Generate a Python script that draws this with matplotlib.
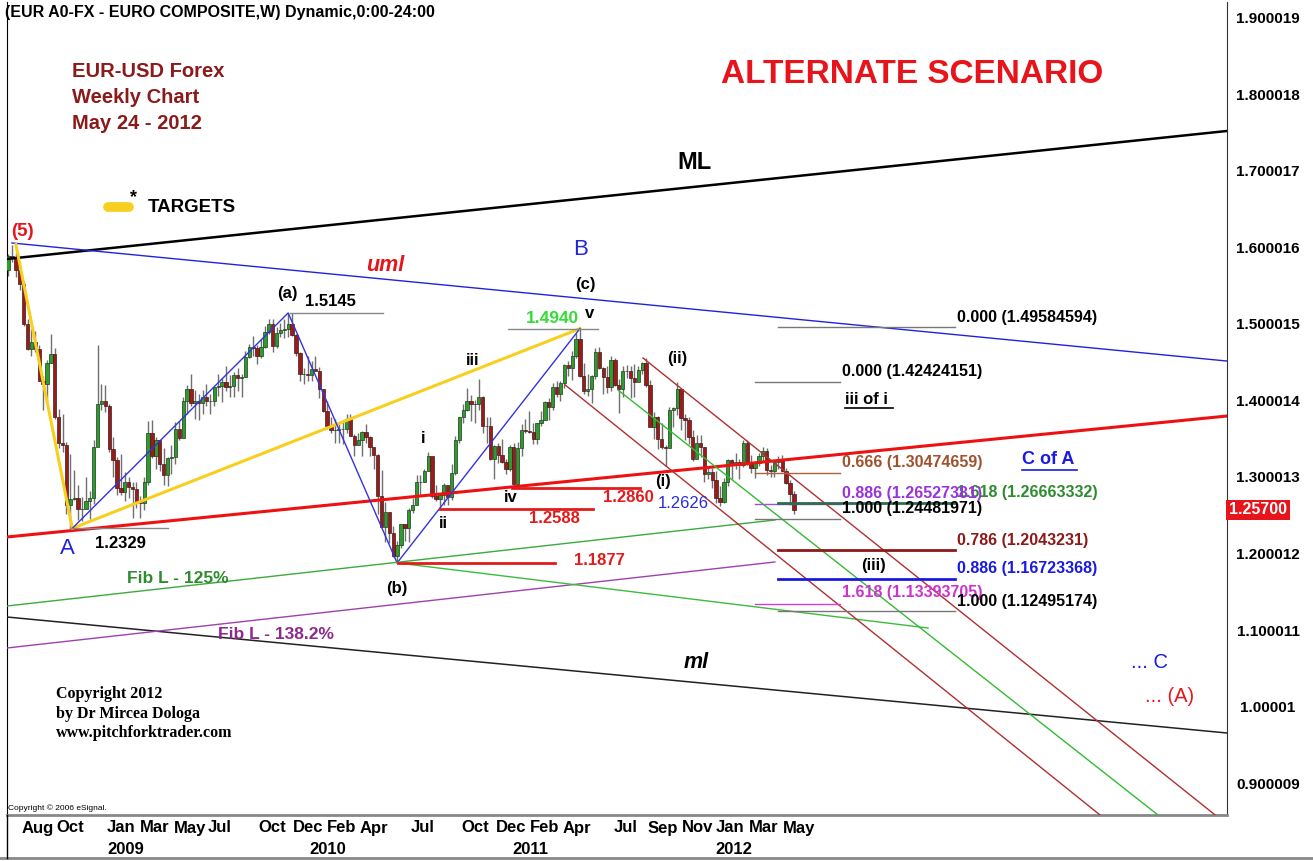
import pandas as pd
import numpy as np
import matplotlib
matplotlib.use('Agg')
import matplotlib.pyplot as plt
import matplotlib.transforms as mtransforms
from matplotlib.lines import Line2D

plt.rcParams['font.family'] = ['Liberation Sans', 'DejaVu Sans']

# ---- weekly EUR/USD candles, first week starts 2008-07-07 ----
start_week = '2008-07-07'
first_open = 1.5700

high_2008 = [1.5915, 1.6038, 1.5930, 1.5690, 1.5560, 1.5070, 1.4930, 1.4910, 1.4720, 1.4320,
             1.4530, 1.4870, 1.4680, 1.3890, 1.3820, 1.3460, 1.3300, 1.3090, 1.2890, 1.2740,
             1.3000, 1.2820, 1.3480, 1.4720, 1.4220, 1.4200]
low_2008 = [1.5630, 1.5810, 1.5620, 1.5440, 1.4970, 1.4660, 1.4580, 1.4640, 1.4250, 1.3880,
            1.4000, 1.4490, 1.3760, 1.3380, 1.3330, 1.2520, 1.2329, 1.2700, 1.2440, 1.2420,
            1.2640, 1.2450, 1.2650, 1.3400, 1.3880, 1.3850]
close_2008 = [1.5890, 1.5860, 1.5700, 1.5520, 1.5005, 1.4670, 1.4760, 1.4670, 1.4260, 1.4220,
              1.4490, 1.4610, 1.3790, 1.3440, 1.3420, 1.2640, 1.2710, 1.2730, 1.2580, 1.2580,
              1.2680, 1.2730, 1.3390, 1.3960, 1.4000, 1.3930]

high_2009 = [1.3950, 1.3520, 1.3260, 1.3300, 1.3060, 1.3000, 1.2930, 1.2930, 1.2750, 1.3000,
             1.3730, 1.3740, 1.3520, 1.3450, 1.3380, 1.3260, 1.3420, 1.3720, 1.3730, 1.4050,
             1.4200, 1.4340, 1.4140, 1.4090, 1.4140, 1.4210, 1.4080, 1.4170, 1.4340, 1.4300,
             1.4450, 1.4330, 1.4370, 1.4420, 1.4340, 1.4650, 1.4740, 1.4840, 1.4720, 1.4800,
             1.4980, 1.5060, 1.5060, 1.4960, 1.5010, 1.5060, 1.5145, 1.5140, 1.4870, 1.4630,
             1.4420, 1.4580]
low_2009 = [1.3330, 1.3000, 1.2770, 1.2770, 1.2680, 1.2720, 1.2460, 1.2590, 1.2460, 1.2570,
            1.2900, 1.3250, 1.3110, 1.3080, 1.2890, 1.2880, 1.3040, 1.3170, 1.3480, 1.3510,
            1.3830, 1.3930, 1.3760, 1.3750, 1.3830, 1.3930, 1.3820, 1.3930, 1.4060, 1.3980,
            1.4130, 1.4050, 1.4050, 1.4130, 1.4050, 1.4310, 1.4550, 1.4580, 1.4480, 1.4550,
            1.4690, 1.4870, 1.4630, 1.4690, 1.4830, 1.4820, 1.4830, 1.4840, 1.4580, 1.4260,
            1.4220, 1.4260]
close_2009 = [1.3370, 1.3220, 1.2850, 1.2800, 1.2940, 1.2870, 1.2840, 1.2670, 1.2660, 1.2930,
              1.3580, 1.3280, 1.3480, 1.3170, 1.3030, 1.3250, 1.3260, 1.3630, 1.3510, 1.3990,
              1.4150, 1.3970, 1.4000, 1.3970, 1.4040, 1.3990, 1.3990, 1.4170, 1.4190, 1.4240,
              1.4180, 1.4190, 1.4330, 1.4290, 1.4310, 1.4570, 1.4700, 1.4680, 1.4580, 1.4700,
              1.4900, 1.5000, 1.4710, 1.4880, 1.4920, 1.4930, 1.5000, 1.4850, 1.4620, 1.4340,
              1.4350, 1.4330]

high_2010 = [1.4520, 1.4580, 1.4440, 1.4150, 1.4000, 1.3790, 1.3760, 1.3690, 1.3750, 1.3820,
             1.3830, 1.3560, 1.3580, 1.3600, 1.3690, 1.3540, 1.3380, 1.3300, 1.3090, 1.2670,
             1.2540, 1.2360, 1.2160, 1.2390, 1.2390, 1.2590, 1.2720, 1.3030, 1.3030, 1.3110,
             1.3333, 1.3260, 1.2890, 1.2780, 1.2920, 1.2900, 1.3170, 1.3530, 1.3790, 1.3950,
             1.4160, 1.4070, 1.4010, 1.4280, 1.4060, 1.3780, 1.3780, 1.3420, 1.3450, 1.3500,
             1.3230, 1.3420]
low_2010 = [1.4260, 1.4380, 1.4030, 1.3850, 1.3630, 1.3580, 1.3440, 1.3450, 1.3430, 1.3580,
            1.3530, 1.3270, 1.3420, 1.3270, 1.3450, 1.3280, 1.3110, 1.2520, 1.2350, 1.2150,
            1.2140, 1.1960, 1.1877, 1.2070, 1.2160, 1.2150, 1.2530, 1.2640, 1.2760, 1.2940,
            1.3080, 1.2730, 1.2680, 1.2588, 1.2640, 1.2640, 1.2700, 1.3020, 1.3440, 1.3700,
            1.3860, 1.3730, 1.3700, 1.3870, 1.3580, 1.3450, 1.3220, 1.2970, 1.3180, 1.3180,
            1.3040, 1.3080]
close_2010 = [1.4410, 1.4380, 1.4150, 1.3860, 1.3670, 1.3610, 1.3610, 1.3630, 1.3630, 1.3760,
              1.3530, 1.3420, 1.3490, 1.3590, 1.3520, 1.3390, 1.3290, 1.2750, 1.2350, 1.2540,
              1.2270, 1.1970, 1.2110, 1.2380, 1.2330, 1.2570, 1.2640, 1.2940, 1.2940, 1.3080,
              1.3280, 1.2750, 1.2710, 1.2760, 1.2900, 1.2740, 1.3050, 1.3490, 1.3780, 1.3870,
              1.4000, 1.3960, 1.3950, 1.4040, 1.3670, 1.3670, 1.3240, 1.3410, 1.3290, 1.3190,
              1.3100, 1.3390]

high_2011 = [1.3440, 1.3460, 1.3690, 1.3760, 1.3860, 1.3700, 1.3710, 1.3860, 1.4000, 1.4030,
             1.4230, 1.4250, 1.4250, 1.4480, 1.4520, 1.4650, 1.4880, 1.4940, 1.4490, 1.4350,
             1.4330, 1.4680, 1.4700, 1.4440, 1.4450, 1.4580, 1.4560, 1.4280, 1.4450, 1.4460,
             1.4450, 1.4480, 1.4450, 1.4500, 1.4550, 1.4270, 1.3850, 1.3800, 1.3700, 1.3420,
             1.3910, 1.3910, 1.4247, 1.4150, 1.3820, 1.3790, 1.3620, 1.3550, 1.3550, 1.3390,
             1.3120, 1.3120]
low_2011 = [1.2900, 1.2860, 1.3270, 1.3580, 1.3580, 1.3430, 1.3430, 1.3670, 1.3750, 1.3750,
            1.3870, 1.4040, 1.4000, 1.4160, 1.4320, 1.4270, 1.4560, 1.4310, 1.4090, 1.4060,
            1.3970, 1.4280, 1.4410, 1.4080, 1.4100, 1.4130, 1.4190, 1.3840, 1.4050, 1.4300,
            1.4030, 1.4050, 1.4280, 1.4340, 1.4180, 1.3650, 1.3500, 1.3370, 1.3360, 1.3146,
            1.3440, 1.3650, 1.3810, 1.3610, 1.3480, 1.3430, 1.3210, 1.3260, 1.3260, 1.2940,
            1.2980, 1.2860]
close_2011 = [1.2910, 1.3380, 1.3620, 1.3600, 1.3590, 1.3500, 1.3700, 1.3740, 1.3980, 1.3920,
              1.4180, 1.4090, 1.4230, 1.4470, 1.4430, 1.4580, 1.4810, 1.4320, 1.4130, 1.4150,
              1.4320, 1.4640, 1.4420, 1.4310, 1.4180, 1.4530, 1.4200, 1.4150, 1.4380, 1.4390,
              1.4290, 1.4240, 1.4400, 1.4490, 1.4200, 1.3650, 1.3790, 1.3500, 1.3390, 1.3380,
              1.3880, 1.3900, 1.4150, 1.3770, 1.3750, 1.3520, 1.3240, 1.3440, 1.3390, 1.3040,
              1.3060, 1.2960]

high_2012 = [1.3080, 1.2880, 1.2990, 1.3230, 1.3240, 1.3320, 1.3240, 1.3490, 1.3490, 1.3290,
             1.3210, 1.3320, 1.3390, 1.3380, 1.3160, 1.3210, 1.3270, 1.3290, 1.3120, 1.2960,
             1.2820]
low_2012 = [1.2660, 1.2624, 1.2660, 1.2880, 1.2980, 1.3100, 1.2970, 1.3130, 1.3160, 1.3050,
            1.2990, 1.3140, 1.3210, 1.3030, 1.3000, 1.3000, 1.3110, 1.3070, 1.2910, 1.2640,
            1.2510]
close_2012 = [1.2720, 1.2670, 1.2940, 1.3220, 1.3160, 1.3200, 1.3160, 1.3450, 1.3190, 1.3120,
              1.3180, 1.3270, 1.3340, 1.3090, 1.3080, 1.3200, 1.3240, 1.3080, 1.2920, 1.2780,
              1.2570]

highs = high_2008 + high_2009 + high_2010 + high_2011 + high_2012
lows = low_2008 + low_2009 + low_2010 + low_2011 + low_2012
closes = close_2008 + close_2009 + close_2010 + close_2011 + close_2012
opens = [first_open] + closes[:-1]   # forex weekly open = previous close

last_price = 1.25700

# ---- drawn analysis lines: (week numbers from 2008-07-14, prices) ----
ML_line = ([-1.29, 312.3], [1.5850, 1.7523])
uml_line = ([0.0, 312.3], [1.6059, 1.4516])
red_median = ([-1.29, 312.3], [1.2216, 1.3797])
ml_line = ([-1.29, 312.3], [1.1170, 0.9654])
yellow_leg = ([1.0, 15.5, 146.0], [1.6038, 1.2329, 1.4940])
blue_zigzag = ([15.5, 71.0, 99.0, 146.0], [1.2329, 1.5145, 1.1877, 1.4940])
fib_125 = ([-1.29, 196.1], [1.1314, 1.2438])
fib_138 = ([-1.29, 196.1], [1.0765, 1.1889])
green_from_b = ([99.0, 235.5], [1.1877, 1.1026])
channel_low = ([142.2, 279.7], [1.4203, 0.8582])
channel_mid = ([155.8, 294.6], [1.4137, 0.8582])
channel_up = ([162.2, 309.3], [1.4556, 0.8582])

# short horizontal price marks
gray_marks = [(71.5, 95.4, 1.5145), (14.9, 40.1, 1.2329), (127.5, 150.6, 1.4940)]
red_marks = [(128.5, 161.4, 1.2860), (110.0, 149.4, 1.2588), (99.2, 139.6, 1.1877)]
fib_left = [(1.42424151, '#777777', 1.0), (1.30474659, '#B0603A', 1.0), (1.26527381, '#A050D0', 1.0),
            (1.24481971, '#777777', 1.0), (1.13393705, '#D040D0', 1.0)]
fib_right = [(1.49584594, '#777777', 1.0), (1.26663332, '#2F6B50', 2.0), (1.20432310, '#8B1A1A', 2.0),
             (1.16723368, '#1A1AE0', 2.0), (1.12495174, '#777777', 1.0)]
fib_left_span = (191.0, 212.9)
fib_right_span = (196.9, 242.4)

ytick_vals = [1.900019, 1.800018, 1.700017, 1.600016, 1.500015, 1.400014,
              1.300013, 1.200012, 1.100011, 1.00001, 0.900009]
ytick_text = ['1.900019', '1.800018', '1.700017', '1.600016', '1.500015', '1.400014',
              '1.300013', '1.200012', '1.100011', '1.00001', '0.900009']

month_dates = ['2008-08-01', '2008-10-01', '2009-01-01', '2009-03-01', '2009-05-01', '2009-07-01',
               '2009-10-01', '2009-12-01', '2010-02-01', '2010-04-01', '2010-07-01', '2010-10-01',
               '2010-12-01', '2011-02-01', '2011-04-01', '2011-07-01', '2011-09-01', '2011-11-01',
               '2012-01-01', '2012-03-01', '2012-05-01']
month_names = ['Aug', 'Oct', 'Jan', 'Mar', 'May', 'Jul', 'Oct', 'Dec', 'Feb', 'Apr', 'Jul', 'Oct',
               'Dec', 'Feb', 'Apr', 'Jul', 'Sep', 'Nov', 'Jan', 'Mar', 'May']
year_names = ['2009', '2010', '2011', '2012']

# ---------------------------------------------------------------
base = pd.Timestamp('2008-07-14')
dates = pd.date_range(start_week, periods=len(closes), freq='W-MON')
wk = np.asarray((dates - base).days) / 7.0

W, H = 1313, 861
fig = plt.figure(figsize=(W / 100, H / 100), dpi=100)
ax = fig.add_axes([7 / W, (H - 815) / H, 1220 / W, 813 / H])
ax.set_xlim(-1.285, 312.34)
ax.set_ylim(0.8582, 1.9209)


def px(x, y):
    # picture position -> data position, used for annotation text
    return (x - 12) / 3.89, 1.9 - (y - 18) / 765.0


# candles
o = np.array(opens); c = np.array(closes)
up = c >= o
ax.vlines(wk, lows, highs, color='#707070', lw=1, zorder=2)
ax.bar(wk[up], (c - o)[up], bottom=o[up], width=0.85, color='#2E9B2E',
       edgecolor='#1d3d1d', lw=0.5, zorder=3)
ax.bar(wk[~up], (o - c)[~up], bottom=c[~up], width=0.85, color='#9B1B1B',
       edgecolor='#3d1d1d', lw=0.5, zorder=3)

# trend / pitchfork lines
ax.plot(*ML_line, color='black', lw=1.8, zorder=4)
ax.plot(*uml_line, color='#2222DD', lw=1, zorder=4)
ax.plot(*red_median, color='#EE1111', lw=2.2, zorder=4)
ax.plot(*ml_line, color='#222222', lw=1.1, zorder=4)
ax.plot(*yellow_leg, color='#F7CF1E', lw=2.2, zorder=4)
ax.plot(*blue_zigzag, color='#3333DD', lw=1, zorder=4)
ax.plot(*fib_125, color='#3DAA3D', lw=1, zorder=4)
ax.plot(*fib_138, color='#A040B0', lw=1, zorder=4)
ax.plot(*green_from_b, color='#3DBB3D', lw=1, zorder=4)
ax.plot(*channel_low, color='#B03030', lw=1, zorder=4)
ax.plot(*channel_mid, color='#33BB33', lw=1, zorder=4)
ax.plot(*channel_up, color='#B03030', lw=1, zorder=4)

for x0, x1, p in gray_marks:
    ax.plot([x0, x1], [p, p], color='#888888', lw=1, zorder=4)
for x0, x1, p in red_marks:
    ax.plot([x0, x1], [p, p], color='#E21B1B', lw=2, zorder=4)
for p, col, lw in fib_left:
    ax.plot(fib_left_span, [p, p], color=col, lw=lw, zorder=4)
for p, col, lw in fib_right:
    ax.plot(fib_right_span, [p, p], color=col, lw=lw, zorder=4)

# texts
def t(x, y, s, color='black', size=12, weight='bold', ha='center', style='normal', **kw):
    ax.text(*px(x, y), s, color=color, fontsize=size, fontweight=weight, ha=ha,
            va='center', fontstyle=style, zorder=6, **kw)


for i, s in enumerate(['EUR-USD Forex', 'Weekly Chart', 'May 24 - 2012']):
    t(72, 72 + 26 * i, s, color='#8B1A1A', size=14.5, ha='left')
t(912, 75, 'ALTERNATE SCENARIO', color='#E8141B', size=24)
t(695, 163, 'ML', size=17)
ax.plot(*zip(px(108, 207), px(129, 207)), color='#F7CF1E', lw=7, solid_capstyle='round', zorder=6)
t(134, 198, '*', size=13)
t(148, 208, 'TARGETS', size=13.5, ha='left')
t(22, 232, '(5)', color='#E8141B', size=13.5)
t(385, 266, 'uml', color='#E8141B', size=15.5, style='italic')
t(287, 293, '(a)')
t(330, 301, '1.5145')
t(581, 250, 'B', color='#2222DD', size=16, weight='normal')
t(585, 284, '(c)')
t(552, 318, '1.4940', color='#33DD33', size=12.5)
t(590, 313, 'v')
t(473, 360, 'iii')
t(423, 438, 'i')
t(443, 523, 'ii')
t(511, 497, 'iv')
t(628, 497, '1.2860', color='#E21B1B')
t(554, 518, '1.2588', color='#E21B1B')
t(599, 560, '1.1877', color='#E21B1B')
t(663, 481, '(i)')
t(683, 503, '1.2626', color='#2A2AE0', weight='normal')
t(677, 358, '(ii)')
t(874, 565, '(iii)')
t(67, 548, 'A', color='#2222DD', size=16, weight='normal')
t(120, 543, '1.2329')
t(397, 588, '(b)')
t(178, 578, 'Fib L - 125%', color='#2E8B2E', size=12.5)
t(276, 634, 'Fib L - 138.2%', color='#8E2A8E', size=12.5)
t(696, 662, 'ml', size=15.5, style='italic')

fib_texts = [(957, 317, '0.000 (1.49584594)', 'black'),
             (842, 371, '0.000 (1.42424151)', 'black'),
             (842, 462, '0.666 (1.30474659)', '#A0522D'),
             (957, 492, '1.618 (1.26663332)', '#2E8B2E'),
             (842, 493, '0.886 (1.26527381)', '#9933DD'),
             (842, 508, '1.000 (1.24481971)', 'black'),
             (957, 540, '0.786 (1.2043231)', '#8B1A1A'),
             (957, 568, '0.886 (1.16723368)', '#1A1AE0'),
             (842, 592, '1.618 (1.13393705)', '#CC33CC'),
             (957, 601, '1.000 (1.12495174)', 'black')]
for x, y, s, col in fib_texts:
    t(x, y, s, color=col, size=11.5, ha='left')

t(845, 399, 'iii of i', size=12, ha='left')
t(1022, 459, 'C of A', color='#1A1AE0', size=13, ha='left')
t(1150, 662, '... C', color='#1A1AE0', size=14.5, weight='normal')
t(1170, 696, '... (A)', color='#E8141B', size=14.5, weight='normal')

for i, s in enumerate(['Copyright 2012', 'by Dr Mircea Dologa', 'www.pitchforktrader.com']):
    t(56, 694 + 19.5 * i, s, size=11.5, ha='left', family=['Liberation Serif', 'DejaVu Serif'])
t(8, 808, 'Copyright \u00a9 2006 eSignal.', size=6, weight='normal', ha='left')

# underlines
for x0, x1, y, col in [(845, 893, 408, 'black'), (1022, 1077, 470, '#1A1AE0')]:
    fig.add_artist(Line2D([x0 / W, x1 / W], [1 - y / H, 1 - y / H], color=col, lw=1.2))

# title strip
fig.text(5 / W, 1 - 12 / H, '(EUR A0-FX - EURO COMPOSITE,W) Dynamic,0:00-24:00',
         fontsize=11.5, fontweight='bold', va='center', ha='left')

# right price axis
ax.yaxis.tick_right()
ax.set_yticks(ytick_vals)
ax.set_yticklabels(ytick_text, fontsize=11, fontweight='bold')
ax.tick_params(axis='y', length=0, pad=29.5)
for lab in ax.get_yticklabels():
    lab.set_ha('center')
trans_y = mtransforms.blended_transform_factory(ax.transAxes, ax.transData)
ax.text(1.0016, last_price, '1.25700', transform=trans_y, color='white', fontsize=11.5,
        fontweight='bold', ha='left', va='center',
        bbox=dict(facecolor='#E8141B', edgecolor='none', pad=2.0))

# date axis
ax.set_xticks([])
trans_x = mtransforms.blended_transform_factory(ax.transData, ax.transAxes)
for d, m in zip(month_dates, month_names):
    xw = (pd.Timestamp(d) - base).days / 7.0
    ax.text(xw, -13 / 813, m, transform=trans_x, fontsize=12, fontweight='bold',
            ha='left', va='center', family=['Liberation Sans Narrow', 'Liberation Sans'])
for y in year_names:
    xw = (pd.Timestamp(y + '-01-01') - base).days / 7.0
    ax.text(xw, -34 / 813, y, transform=trans_x, fontsize=12, fontweight='bold',
            ha='left', va='center', family=['Liberation Sans Narrow', 'Liberation Sans'])

ax.spines['top'].set_visible(False)
ax.spines['left'].set_color('black')
ax.spines['right'].set_color('#333333')
ax.spines['bottom'].set_color('#888888')
ax.spines['bottom'].set_linewidth(2)
fig.add_artist(Line2D([0, 1], [1 - 858 / H, 1 - 858 / H], color='#888888', lw=2))
fig.add_artist(Line2D([7 / W, 7 / W], [1 - 858 / H, 1 - 815 / H], color='black', lw=1))

fig.savefig('out.png', dpi=100)
